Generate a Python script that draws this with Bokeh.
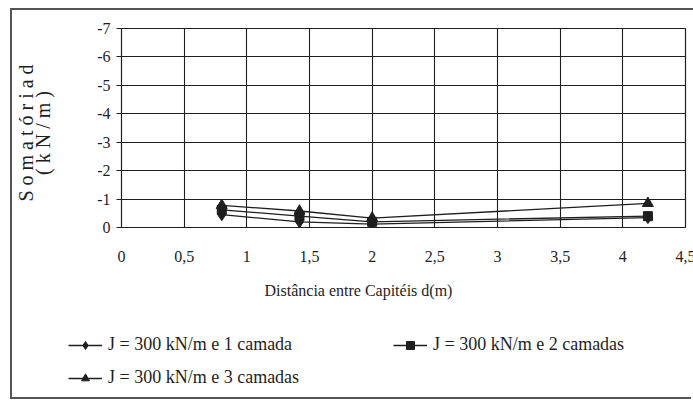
from bokeh.plotting import figure
from bokeh.models import (Range1d, FixedTicker, Legend, LegendItem, Title)
from bokeh.embed import file_html
from bokeh.resources import INLINE

# ---- data ----
distance = [0.8, 1.42, 2.0, 4.2]
s1 = [-0.45, -0.2, -0.12, -0.35]
s2 = [-0.62, -0.4, -0.2, -0.4]
s3 = [-0.78, -0.58, -0.33, -0.85]
series_names = ["J = 300 kN/m e 1 camada", "J = 300 kN/m e 2 camadas", "J = 300 kN/m e 3 camadas"]
x_ticks = [0, 0.5, 1, 1.5, 2, 2.5, 3, 3.5, 4, 4.5]
x_tick_labels = ["0", "0,5", "1", "1,5", "2", "2,5", "3", "3,5", "4", "4,5"]
y_ticks = [0, -1, -2, -3, -4, -5, -6, -7]
y_tick_labels = ["0", "-1", "-2", "-3", "-4", "-5", "-6", "-7"]
x_title = "Distância entre Capitéis d(m)"
y_title = "S o m a t ó r i a   d\n(  k N / m  )"

FONT = "Liberation Serif"
INK = "#1e1e1e"
BORDER = "2px solid #555"

p = figure(width=681, height=302, output_backend="svg", toolbar_location=None,
           x_range=Range1d(0, 4.5), y_range=Range1d(0, -7),
           min_border_left=106, min_border_right=11, min_border_top=18, min_border_bottom=85,
           margin=(8, 0, 0, 10), styles={"border-left": BORDER, "border-top": BORDER})
p.frame_width = 564
p.frame_height = 199

p.background_fill_color = "white"
p.border_fill_color = "white"
p.outline_line_color = INK
p.outline_line_width = 1.2

# axes
p.xaxis.ticker = FixedTicker(ticks=x_ticks)
p.xaxis.major_label_overrides = {t: l for t, l in zip(x_ticks, x_tick_labels)}
p.xaxis.axis_line_color = None
p.xaxis.major_tick_line_color = None
p.xaxis.minor_tick_line_color = None
p.xaxis.major_label_standoff = 17
p.yaxis.ticker = FixedTicker(ticks=y_ticks)
p.yaxis.major_label_overrides = {t: l for t, l in zip(y_ticks, y_tick_labels)}
p.yaxis.axis_line_color = None
p.yaxis.major_tick_out = 5
p.yaxis.major_tick_in = 0
p.yaxis.major_tick_line_color = INK
p.yaxis.minor_tick_line_color = None
p.yaxis.major_label_standoff = 6
p.yaxis.axis_label = y_title
p.yaxis.axis_label_standoff = 40
p.yaxis.axis_label_text_font = FONT
p.yaxis.axis_label_text_font_size = "20px"
p.yaxis.axis_label_text_font_style = "normal"
p.yaxis.axis_label_text_color = INK
p.yaxis.axis_label_text_line_height = 0.78
for ax in (p.xaxis, p.yaxis):
    ax.major_label_text_font = FONT
    ax.major_label_text_font_size = "16px"
    ax.major_label_text_color = INK

p.xgrid.ticker = FixedTicker(ticks=x_ticks)
p.ygrid.ticker = FixedTicker(ticks=y_ticks)
for g in (p.xgrid, p.ygrid):
    g.grid_line_color = INK
    g.grid_line_width = 1.1

# series
markers = ["diamond", "square", "triangle"]
sizes = [12, 9, 11]
for ys, mk, sz in zip([s1, s2, s3], markers, sizes):
    p.line(distance, ys, line_color=INK, line_width=1.3)
    p.scatter(distance, ys, marker=mk, size=sz, fill_color=INK, line_color=INK)

# x axis title
p.add_layout(Title(text=x_title, align="left", offset=143, standoff=30, text_font=FONT,
                   text_font_size="16px", text_color=INK, text_font_style="normal"), "below")

# legend panel (separate root below the chart; its series lie outside its view)
lp = figure(width=681, height=86, output_backend="svg", toolbar_location=None,
            x_range=Range1d(-10, -9), y_range=Range1d(0, 1),
            x_axis_location=None, y_axis_location=None,
            min_border_left=0, min_border_right=0, min_border_top=0, min_border_bottom=0,
            margin=(0, 0, 0, 10), styles={"border-left": BORDER, "border-bottom": BORDER})
lp.grid.visible = False
lp.outline_line_color = None
lp.background_fill_color = "white"
lp.border_fill_color = "white"
items = []
for ys, mk, sz, name in zip([s1, s2, s3], markers, sizes, series_names):
    rl = lp.line(distance, ys, line_color=INK, line_width=1.3)
    rm = lp.scatter(distance, ys, marker=mk, size=sz - 2, fill_color=INK, line_color=INK)
    items.append(LegendItem(label=name, renderers=[rl, rm]))
legend = Legend(items=items, orientation="horizontal", ncols=2, location=(56, 11), margin=0,
                label_text_font=FONT, label_text_font_size="18px", label_text_color=INK,
                glyph_width=34, glyph_height=20, label_standoff=6, spacing=12, padding=0,
                border_line_color=None, background_fill_alpha=0, label_width=273)
lp.add_layout(legend)

open("out.html", "w").write(file_html([p, lp], INLINE))
